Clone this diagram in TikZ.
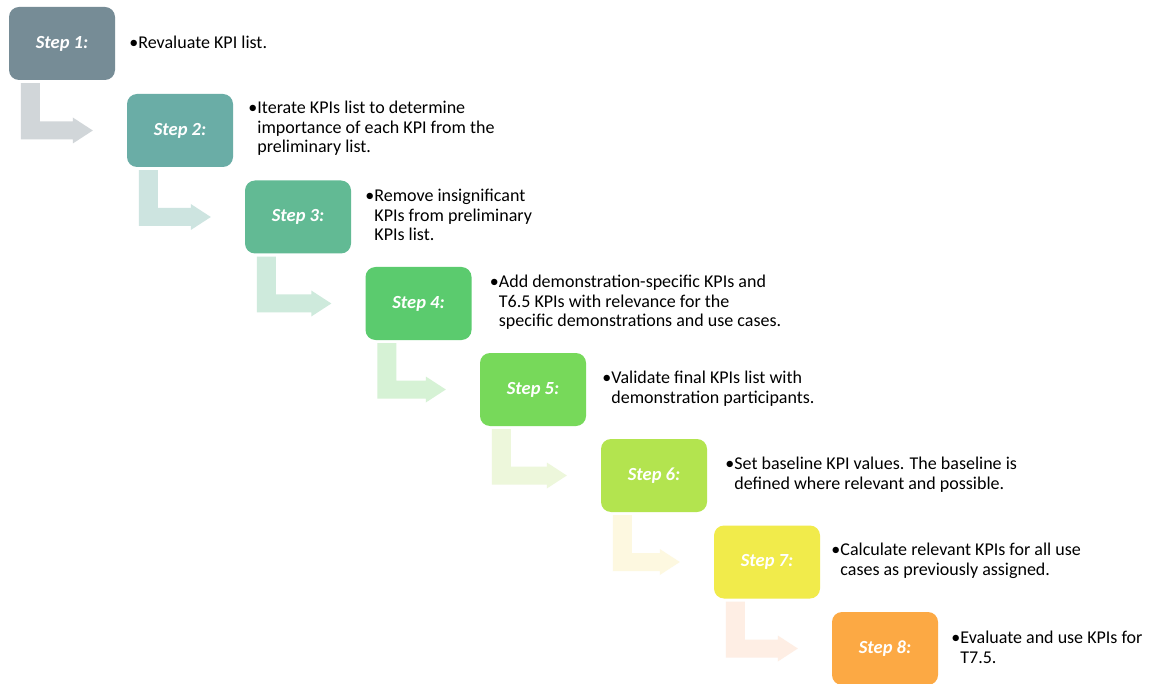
\documentclass[tikz,border=0pt]{standalone}
\usepackage{fontspec}
\setmainfont{Carlito}
\usetikzlibrary{calc}

% box fills
\definecolor{box1}{HTML}{768C96}
\definecolor{box2}{HTML}{6AADA6}
\definecolor{box3}{HTML}{62BA94}
\definecolor{box4}{HTML}{5BCB6E}
\definecolor{box5}{HTML}{77D95A}
\definecolor{box6}{HTML}{B3E44F}
\definecolor{box7}{HTML}{F1EB4B}
\definecolor{box8}{HTML}{FCA944}
% pale arrow fills
\definecolor{arr1}{HTML}{D1D6D9}
\definecolor{arr2}{HTML}{CDE4E0}
\definecolor{arr3}{HTML}{CEEADC}
\definecolor{arr4}{HTML}{D6F2D5}
\definecolor{arr5}{HTML}{EDF7DB}
\definecolor{arr6}{HTML}{FDF8E0}
\definecolor{arr7}{HTML}{FEEEE4}

\tikzset{
  stepbox/.style={rounded corners=10pt, minimum width=106pt, minimum height=73pt,
    inner sep=0pt, text=white, font=\fontsize{18.5}{22}\selectfont\bfseries\itshape},
  desc/.style={anchor=west, align=left, inner sep=0pt, text=black,
    font=\fontsize{18}{19.5}\selectfont},
}

% bent arrow from below one step box to the left side of the next one
\newcommand\bentarrow[3]{%
  \fill[#3] ($(#1.south west)+(12,3)$) -- ($(#1.south west)+(31,3)$)
    |- ($(#2.west)+(-54,-9)$) -- ($(#2.west)+(-54,-13)$)
    -- ($(#2.west)+(-34,0)$) -- ($(#2.west)+(-54,13)$)
    -- ($(#2.west)+(-54,9)$) -| ($(#1.south west)+(12,3)$) -- cycle;}

\begin{document}
\begin{tikzpicture}[x=1pt,y=-1pt]
\useasboundingbox[fill=white] (0,0) rectangle (1150,684);

% step boxes (centres)
\node[stepbox, fill=box1] (s1) at (62,43.5)    {Step 1:};
\node[stepbox, fill=box2] (s2) at (180,130.5)  {Step 2:};
\node[stepbox, fill=box3] (s3) at (298,217)    {Step 3:};
\node[stepbox, fill=box4] (s4) at (418.5,303.5){Step 4:};
\node[stepbox, fill=box5] (s5) at (533,389.5)  {Step 5:};
\node[stepbox, fill=box6] (s6) at (654,475.5)  {Step 6:};
\node[stepbox, fill=box7] (s7) at (767,562)    {Step 7:};
\node[stepbox, fill=box8] (s8) at (885,648.5)  {Step 8:};

% connecting arrows
\bentarrow{s1}{s2}{arr1}
\bentarrow{s2}{s3}{arr2}
\bentarrow{s3}{s4}{arr3}
\bentarrow{s4}{s5}{arr4}
\bentarrow{s5}{s6}{arr5}
\bentarrow{s6}{s7}{arr6}
\bentarrow{s7}{s8}{arr7}

% descriptions
\node[desc] (t1) at ($(s1.east)+(23,-1)$) {\llap{•}Revaluate KPI list.};
\node[desc] (t2) at ($(s2.east)+(24,-2)$) {\llap{•}Iterate KPIs list to determine\\importance of each KPI from the\\preliminary list.};
\node[desc] (t3) at ($(s3.east)+(23,-2)$) {\llap{•}Remove insignificant\\KPIs from preliminary\\KPIs list.};
\node[desc] (t4) at ($(s4.east)+(27,-1)$) {\llap{•}Add demonstration-specific KPIs and\\T6.5 KPIs with relevance for the\\specific demonstrations and use cases.};
\node[desc] (t5) at ($(s5.east)+(25,-1)$) {\llap{•}Validate final KPIs list with\\demonstration participants.};
\node[desc] (t6) at ($(s6.east)+(27,-1)$) {\llap{•}Set baseline KPI values. The baseline is\\defined where relevant and possible.};
\node[desc] (t7) at ($(s7.east)+(20,-1)$) {\llap{•}Calculate relevant KPIs for all use\\cases as previously assigned.};
\node[desc] (t8) at ($(s8.east)+(22,-1)$) {\llap{•}Evaluate and use KPIs for\\T7.5.};
\end{tikzpicture}
\end{document}
